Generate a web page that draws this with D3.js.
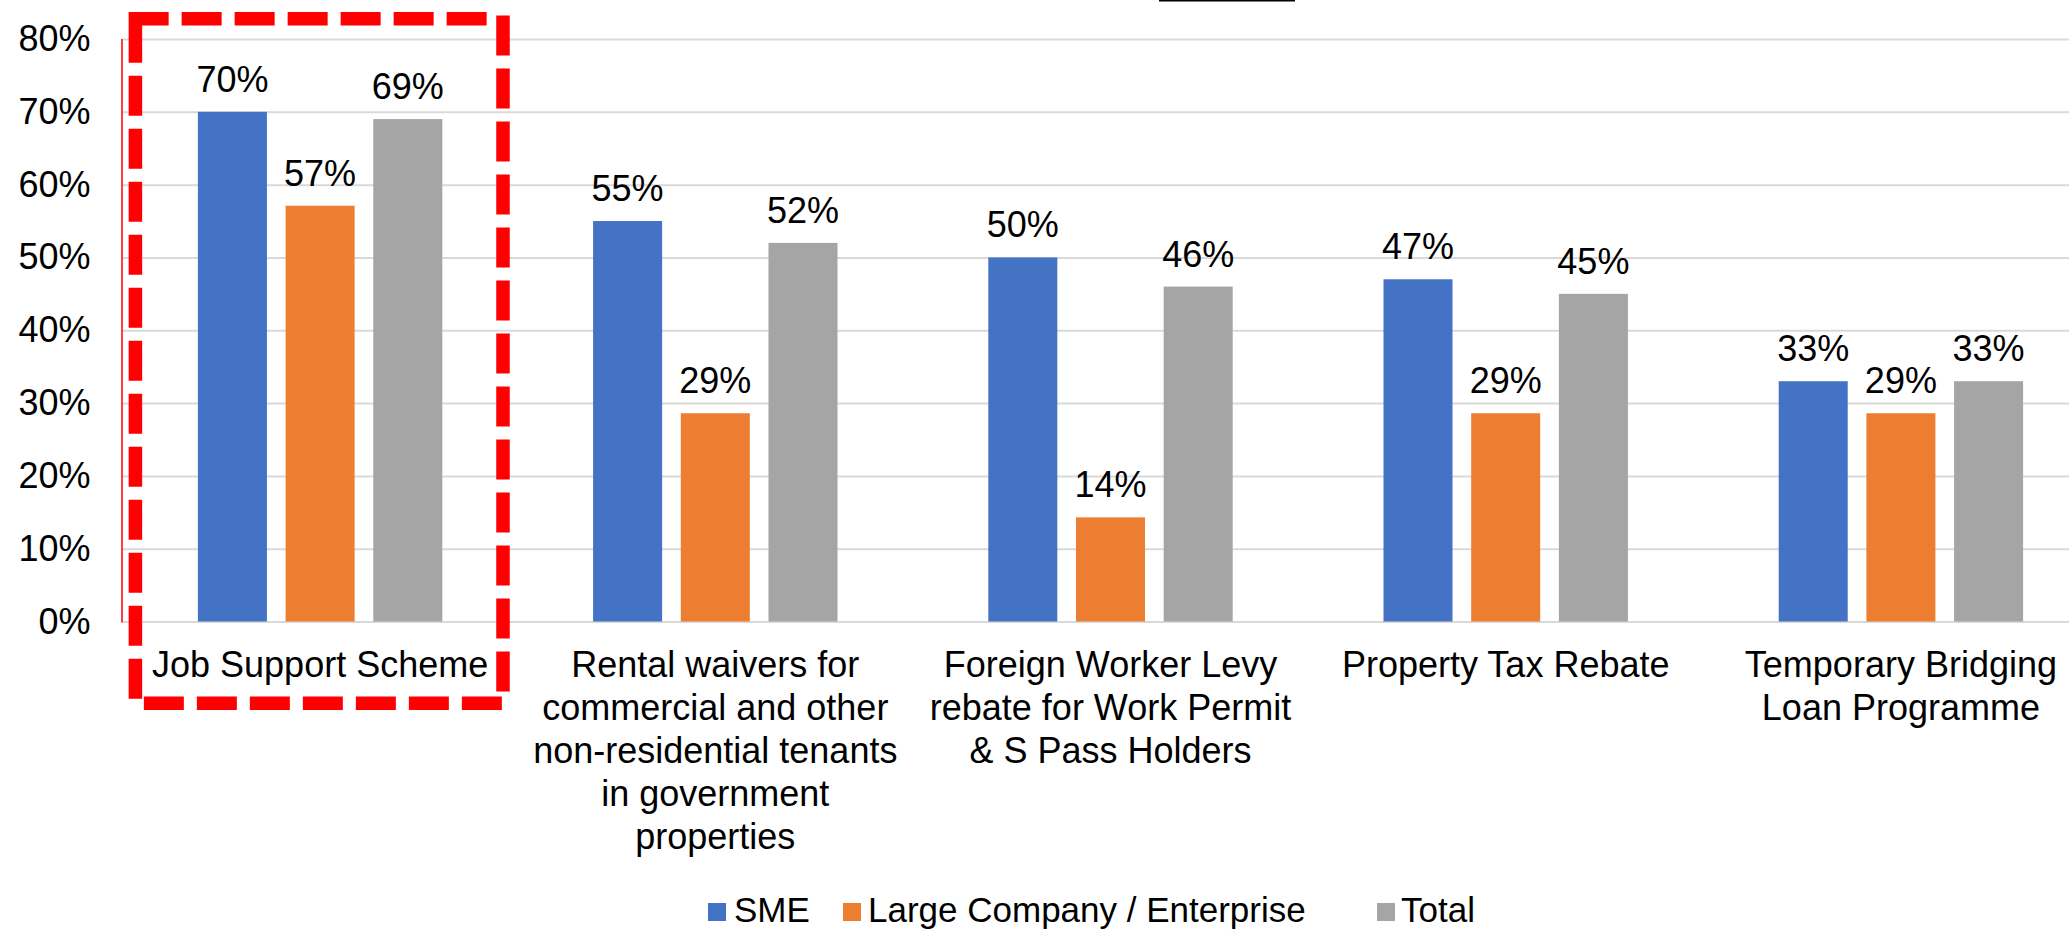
<!DOCTYPE html>
<html>
<head>
<meta charset="utf-8">
<script src="https://cdn.jsdelivr.net/npm/d3@7"></script>
<style>
  html, body { margin: 0; padding: 0; background: #ffffff; }
  svg { display: block; }
  text { font-family: "Liberation Sans", Arial, Helvetica, sans-serif; fill: #000; }
</style>
</head>
<body>
<svg id="chart" width="2069" height="930"></svg>
<script>
// ---- data ----
const categories = [
  "Job Support Scheme",
  "Rental waivers for commercial and other non-residential tenants in government properties",
  "Foreign Worker Levy rebate for Work Permit & S Pass Holders",
  "Property Tax Rebate",
  "Temporary Bridging Loan Programme"
];
const categoryLines = [
  ["Job Support Scheme"],
  ["Rental waivers for", "commercial and other", "non-residential tenants", "in government", "properties"],
  ["Foreign Worker Levy", "rebate for Work Permit", "& S Pass Holders"],
  ["Property Tax Rebate"],
  ["Temporary Bridging", "Loan Programme"]
];
const seriesNames = ["SME", "Large Company / Enterprise", "Total"];
const smeValues   = [0.70, 0.55, 0.50, 0.47, 0.33];
const largeValues = [0.571, 0.286, 0.143, 0.286, 0.286];
const totalValues = [0.69, 0.52, 0.46, 0.45, 0.33];
const yTicks = [0, 0.1, 0.2, 0.3, 0.4, 0.5, 0.6, 0.7, 0.8];
const colors = ["#4472C4", "#ED7D31", "#A5A5A5"];

const seriesValues = [smeValues, largeValues, totalValues];
const rows = categories.map((c, i) => ({
  cat: c,
  vals: seriesNames.map((s, j) => ({ series: s, j: j, v: seriesValues[j][i] }))
}));

// ---- layout ----
const svg = d3.select("#chart");
const plotLeft = 122.5, plotRight = 2098.5;
const y0px = 621.5, yTopPx = 39;

const x0 = d3.scaleBand().domain(categories).range([plotLeft, plotRight]).paddingInner(0).paddingOuter(0);
const groupW = 244.4;
const x1 = d3.scaleBand().domain(seriesNames)
  .range([x0.bandwidth() / 2 - groupW / 2, x0.bandwidth() / 2 + groupW / 2])
  .paddingInner(0.213).paddingOuter(0);
const y = d3.scaleLinear().domain([0, 0.8]).range([y0px, yTopPx]);
const fmt = d3.format(".0%");

// gridlines + y tick labels
const yAxis = d3.axisLeft(y).tickValues(yTicks).tickFormat(fmt)
  .tickSize(-(2069 - plotLeft)).tickPadding(32);
const gy = svg.append("g").attr("transform", `translate(${plotLeft},0)`).call(yAxis);
gy.select(".domain").remove();
gy.selectAll(".tick line").attr("stroke", "#D9D9D9").attr("stroke-width", 2);
gy.selectAll(".tick text").attr("font-size", 36).attr("fill", "#000")
  .style("font-family", '"Liberation Sans", Arial, sans-serif');

// thin red vertical line (left axis)
svg.append("line")
  .attr("x1", plotLeft - 0.5).attr("x2", plotLeft - 0.5)
  .attr("y1", y(0.8)).attr("y2", y(0) + 1)
  .attr("stroke", "#FF0000").attr("stroke-width", 1.5);

// bars
const groups = svg.append("g").selectAll("g.grp").data(rows).join("g")
  .attr("class", "grp")
  .attr("transform", d => `translate(${x0(d.cat)},0)`);

groups.selectAll("rect").data(d => d.vals).join("rect")
  .attr("x", d => x1(d.series))
  .attr("width", x1.bandwidth())
  .attr("y", d => y(d.v))
  .attr("height", d => y(0) - y(d.v))
  .attr("fill", d => colors[d.j]);

// data labels
groups.selectAll("text.lbl").data(d => d.vals).join("text")
  .attr("class", "lbl")
  .attr("x", d => x1(d.series) + x1.bandwidth() / 2)
  .attr("y", d => y(d.v) - 20)
  .attr("text-anchor", "middle")
  .attr("font-size", 36)
  .text(d => fmt(Math.round(d.v * 100) / 100));

// category labels
const xAxis = d3.axisBottom(x0).tickSize(0).tickFormat("");
const gx = svg.append("g").attr("transform", `translate(0,${y0px})`).call(xAxis);
gx.select(".domain").remove();
gx.selectAll(".tick").each(function(d, i) {
  const t = d3.select(this).append("text")
    .attr("text-anchor", "middle")
    .attr("font-size", 36)
    .attr("fill", "#000")
    .style("font-family", '"Liberation Sans", Arial, sans-serif');
  categoryLines[i].forEach((line, k) => {
    t.append("tspan").attr("x", 0).attr("y", 55.5 + k * 43).text(line);
  });
});

// legend
const legendItems = [
  { name: seriesNames[0], sx: 708, tx: 734 },
  { name: seriesNames[1], sx: 843, tx: 868 },
  { name: seriesNames[2], sx: 1377, tx: 1401 }
];
const lg = svg.append("g");
legendItems.forEach((it, i) => {
  lg.append("rect").attr("x", it.sx).attr("y", 903).attr("width", 18).attr("height", 18).attr("fill", colors[i]);
  lg.append("text").attr("x", it.tx).attr("y", 922).attr("font-size", 35).text(it.name);
});

// red dashed highlight box
svg.append("rect")
  .attr("x", 135.4).attr("y", 18.8)
  .attr("width", 367.6).attr("height", 684.5)
  .attr("fill", "none")
  .attr("stroke", "#FF0000")
  .attr("stroke-width", 13.5)
  .attr("stroke-linecap", "square")
  .attr("stroke-dasharray", "26.5 26.5");

// remnant underline of cropped title at top
svg.append("rect").attr("x", 1159).attr("y", 0).attr("width", 136).attr("height", 1.5).attr("fill", "#000");
</script>
</body>
</html>
